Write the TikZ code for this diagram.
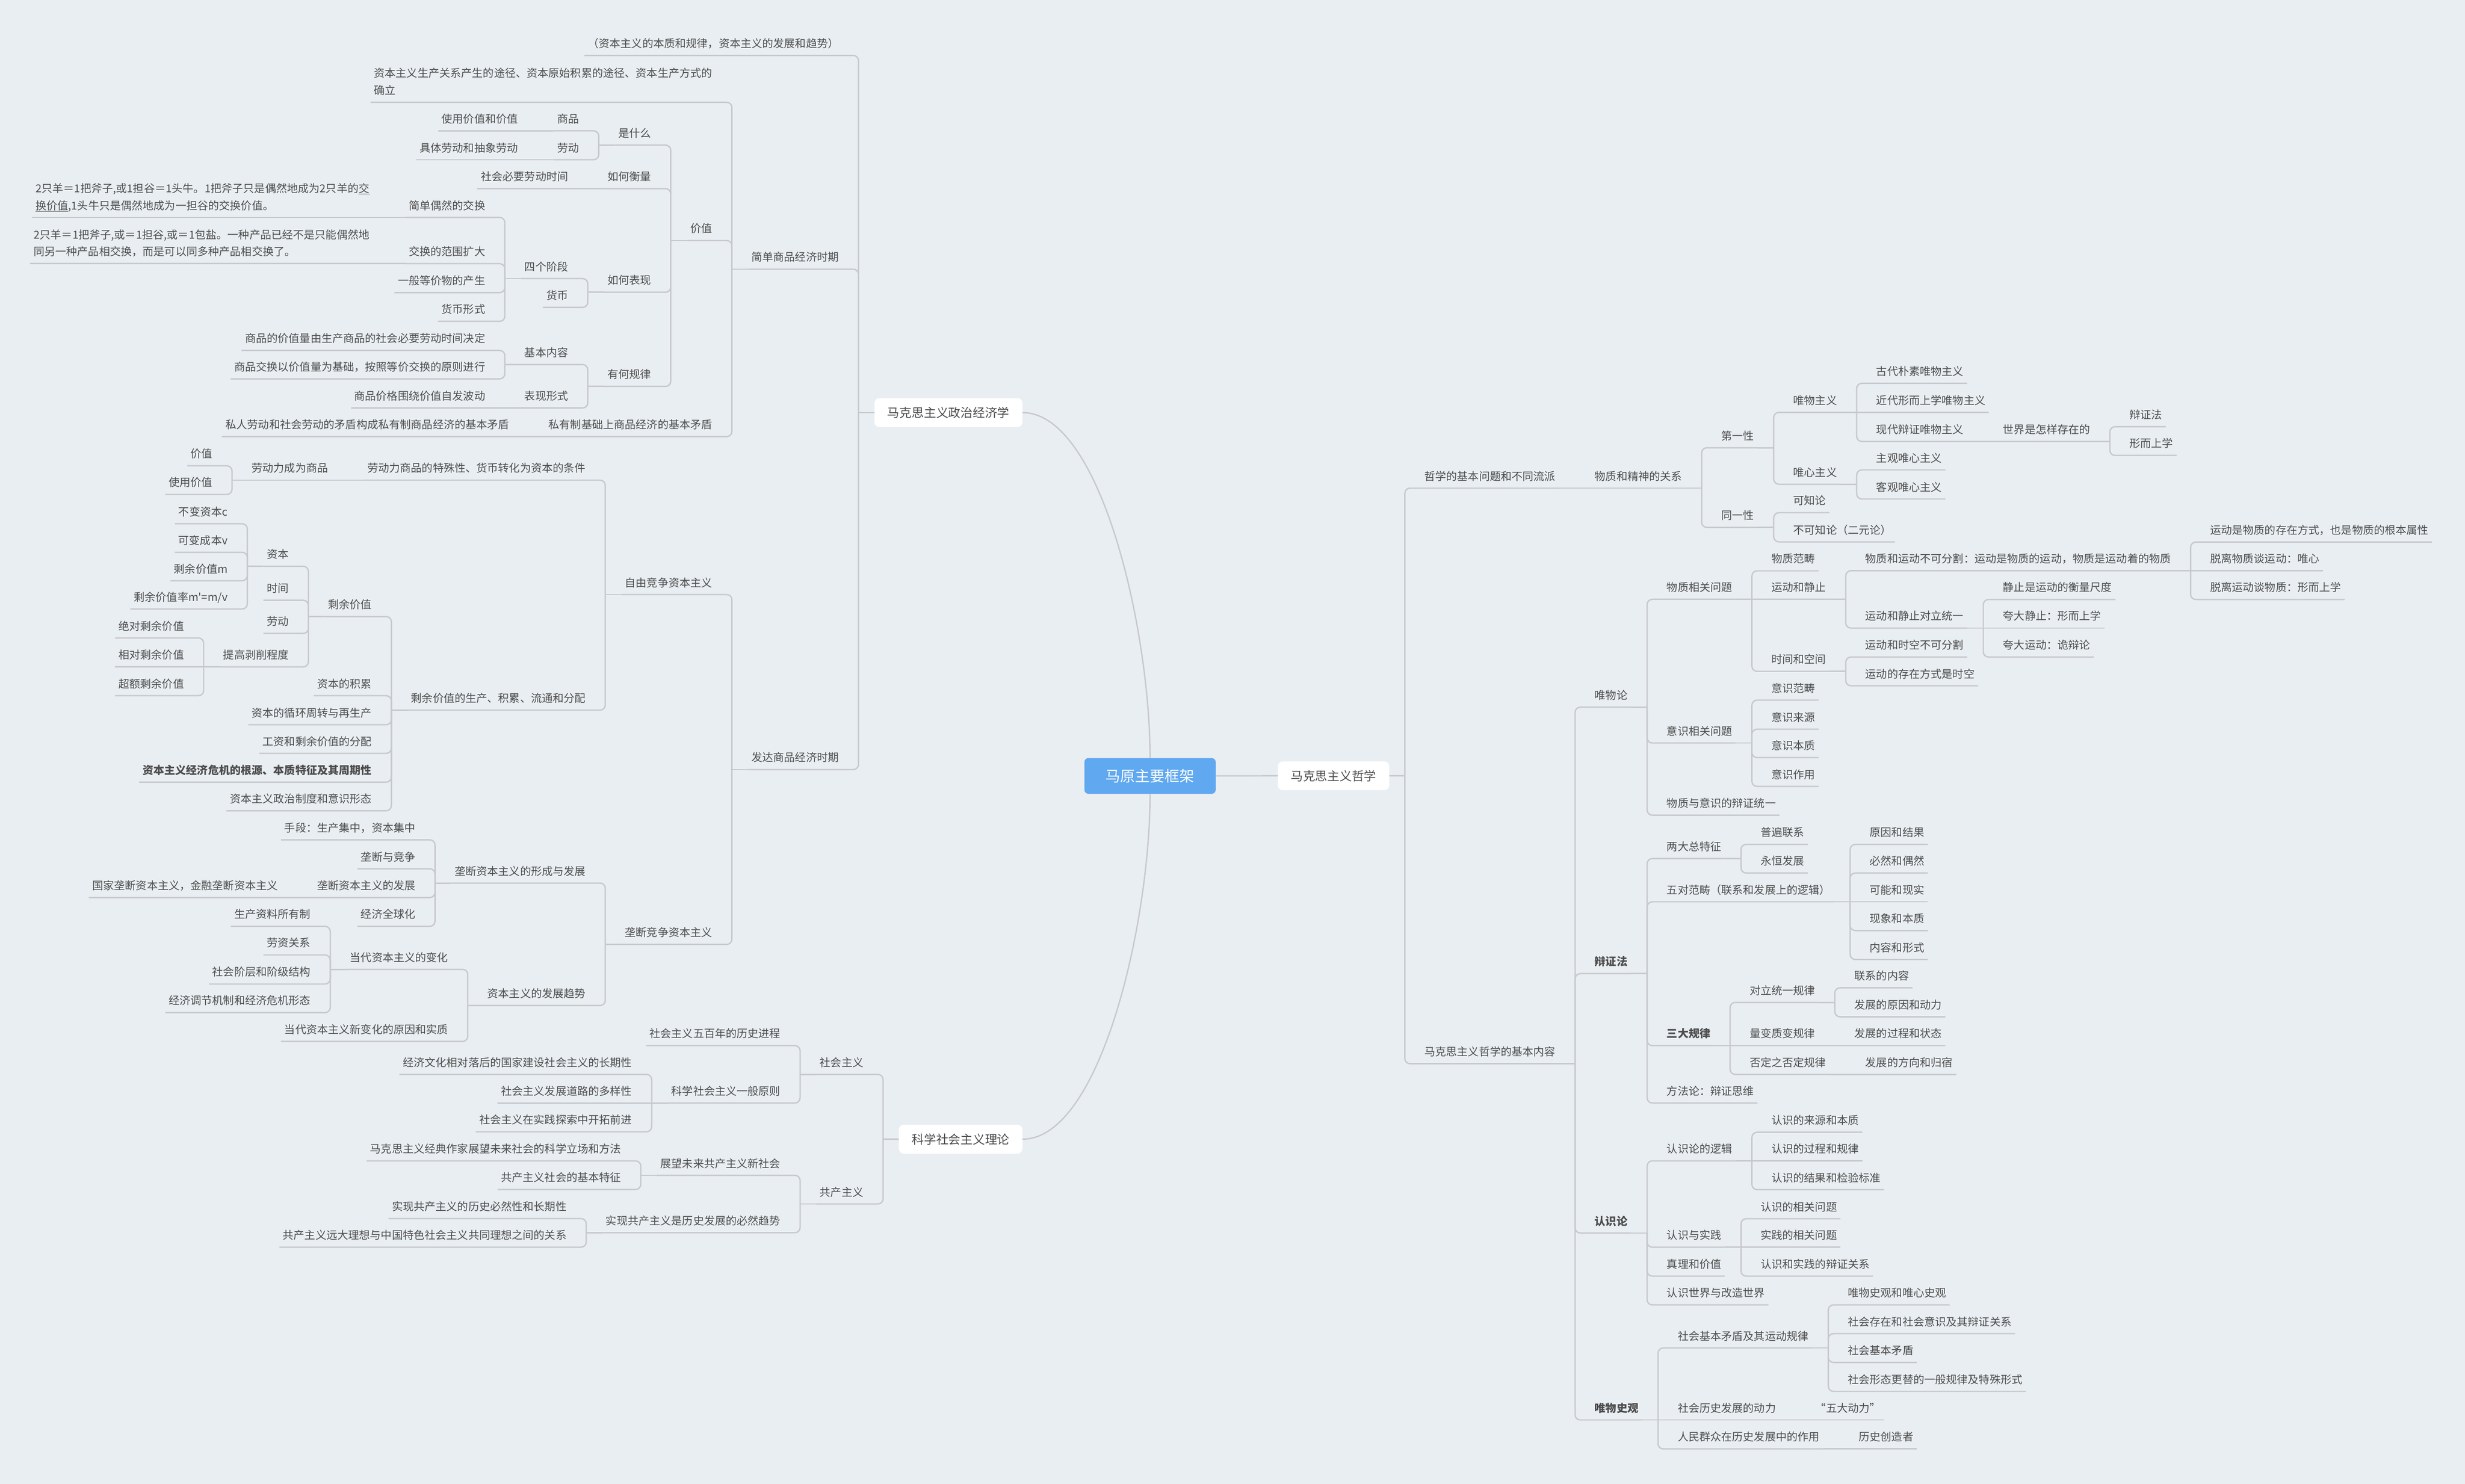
\documentclass[tikz,border=0pt]{standalone}
\usepackage{fontspec}
\setmainfont{Noto Sans CJK SC}
\usetikzlibrary{calc}
\definecolor{bgc}{HTML}{E9EEF2}
\definecolor{linec}{HTML}{C8C9CD}
\definecolor{txtc}{HTML}{4D4D4D}
\definecolor{mainblue}{HTML}{60A8F0}
\tikzset{
  txt/.style={inner sep=0pt, outer sep=0pt, text=txtc, font=\fontsize{19.75}{24}\selectfont},
  boldtxt/.style={font=\fontsize{19.75}{24}\selectfont\bfseries},
  conn/.style={draw=linec, line width=0.85mm},
  l1box/.style={fill=white, rounded corners=3mm, inner xsep=8.2mm, inner ysep=0pt, minimum height=18.3mm, text=txtc, font=\fontsize{22.1}{26}\selectfont},
  mainbox/.style={fill=mainblue, rounded corners=2.5mm, minimum width=83.5mm, minimum height=22.7mm, inner sep=0pt, text=white, font=\fontsize{26.86}{30}\selectfont},
}
% right-side node: name, parent, line y, style, text
\newcommand\Rn[5]{%
  \node[txt,#4,anchor=base west] (#1) at ($(#2B |- 0,#3)+(12.5,-5)$) {#5};
  \coordinate (#1B) at ($(#1.east |- 0,#3)+(12.5,0)$);
  \coordinate (#1L) at ($(#1.east |- 0,#3)+(2.2,0)$);
  \expandafter\xdef\csname ypos#1\endcsname{#3}%
  \draw[conn] (#2L) -- (#2B);
  \ifdim #3pt=\csname ypos#2\endcsname pt
    \draw[conn] (#2B) -- (#1L);
  \else
    \draw[conn,rounded corners=3.3mm] (#2B) |- (#1L);
  \fi
}
% left-side node
\newcommand\Ln[5]{%
  \node[txt,#4,anchor=base east] (#1) at ($(#2B |- 0,#3)+(-12.5,-5)$) {#5};
  \coordinate (#1B) at ($(#1.west |- 0,#3)+(-12.5,0)$);
  \coordinate (#1L) at ($(#1.west |- 0,#3)+(-2.2,0)$);
  \expandafter\xdef\csname ypos#1\endcsname{#3}%
  \draw[conn] (#2L) -- (#2B);
  \ifdim #3pt=\csname ypos#2\endcsname pt
    \draw[conn] (#2B) -- (#1L);
  \else
    \draw[conn,rounded corners=3.3mm] (#2B) |- (#1L);
  \fi
}
\begin{document}
\begin{tikzpicture}[x=1mm,y=-1mm]
\fill[bgc] (0,0) rectangle (1568,943.85);
\path[use as bounding box] (0,0) rectangle (1568,943.85);

% central and first-level nodes
\node[mainbox] (main) at (731.55,493.55) {马原主要框架};
\node[l1box,anchor=west] (phil) at (812.8,493.45) {马克思主义哲学};
\node[l1box,anchor=east] (econ) at (650.4,262.45) {马克思主义政治经济学};
\node[l1box,anchor=east] (sci) at (650.4,724.6) {科学社会主义理论};
\draw[conn] (main.east) -- (phil.west);
\draw[conn] (main.north) .. controls +(0,-82.2) and +(49.6,0) .. (econ.east);
\draw[conn] (main.south) .. controls +(0,82.2) and +(49.6,0) .. (sci.east);
\coordinate (philL) at (phil.east);
\coordinate (philB) at ($(phil.east)+(9.9,0)$);
\expandafter\xdef\csname yposphil\endcsname{493.45}
\coordinate (econL) at (econ.west);
\coordinate (econB) at ($(econ.west)+(-10.1,0)$);
\expandafter\xdef\csname yposecon\endcsname{262.45}
\coordinate (sciL) at (sci.west);
\coordinate (sciB) at ($(sci.west)+(-10,0)$);
\expandafter\xdef\csname ypossci\endcsname{724.6}

% ---------------- right: philosophy ----------------
\Rn{r1}{phil}{310.5}{}{哲学的基本问题和不同流派}
\Rn{r11}{r1}{310.5}{}{物质和精神的关系}
\Rn{r111}{r11}{284.8}{}{第一性}
\Rn{r1111}{r111}{262.3}{}{唯物主义}
\Rn{a1}{r1111}{243.8}{}{古代朴素唯物主义}
\Rn{a2}{r1111}{262.3}{}{近代形而上学唯物主义}
\Rn{a3}{r1111}{280.8}{}{现代辩证唯物主义}
\Rn{a31}{a3}{280.8}{}{世界是怎样存在的}
\Rn{a311}{a31}{271.4}{}{辩证法}
\Rn{a312}{a31}{289.7}{}{形而上学}
\Rn{r1112}{r111}{308.0}{}{唯心主义}
\Rn{b1}{r1112}{298.9}{}{主观唯心主义}
\Rn{b2}{r1112}{317.4}{}{客观唯心主义}
\Rn{r112}{r11}{335.5}{}{同一性}
\Rn{c1}{r112}{326.1}{}{可知论}
\Rn{c2}{r112}{344.7}{}{不可知论（二元论）}

\Rn{r2}{phil}{676.6}{}{马克思主义哲学的基本内容}
\Rn{w}{r2}{449.8}{}{唯物论}
\Rn{w1}{w}{381.2}{}{物质相关问题}
\Rn{w11}{w1}{363.1}{}{物质范畴}
\Rn{w12}{w1}{381.2}{}{运动和静止}
\Rn{w121}{w12}{363.0}{}{物质和运动不可分割：运动是物质的运动，物质是运动着的物质}
\Rn{w1211}{w121}{344.8}{}{运动是物质的存在方式，也是物质的根本属性}
\Rn{w1212}{w121}{363.0}{}{脱离物质谈运动：唯心}
\Rn{w1213}{w121}{381.3}{}{脱离运动谈物质：形而上学}
\Rn{w122}{w12}{399.5}{}{运动和静止对立统一}
\Rn{w1221}{w122}{381.3}{}{静止是运动的衡量尺度}
\Rn{w1222}{w122}{399.5}{}{夸大静止：形而上学}
\Rn{w1223}{w122}{417.9}{}{夸大运动：诡辩论}
\Rn{w13}{w1}{427.0}{}{时间和空间}
\Rn{w131}{w13}{417.9}{}{运动和时空不可分割}
\Rn{w132}{w13}{436.2}{}{运动的存在方式是时空}
\Rn{w2}{w}{472.6}{}{意识相关问题}
\Rn{w21}{w2}{445.3}{}{意识范畴}
\Rn{w22}{w2}{463.8}{}{意识来源}
\Rn{w23}{w2}{481.9}{}{意识本质}
\Rn{w24}{w2}{500.2}{}{意识作用}
\Rn{w3}{w}{518.5}{}{物质与意识的辩证统一}

\Rn{d}{r2}{619.3}{boldtxt}{辩证法}
\Rn{d1}{d}{546.1}{}{两大总特征}
\Rn{d11}{d1}{537.1}{}{普遍联系}
\Rn{d12}{d1}{555.3}{}{永恒发展}
\Rn{d2}{d}{573.6}{}{五对范畴（联系和发展上的逻辑）}
\Rn{d21}{d2}{537.1}{}{原因和结果}
\Rn{d22}{d2}{555.3}{}{必然和偶然}
\Rn{d23}{d2}{573.6}{}{可能和现实}
\Rn{d24}{d2}{591.9}{}{现象和本质}
\Rn{d25}{d2}{610.3}{}{内容和形式}
\Rn{d3}{d}{665.1}{boldtxt}{三大规律}
\Rn{d31}{d3}{637.6}{}{对立统一规律}
\Rn{d311}{d31}{628.3}{}{联系的内容}
\Rn{d312}{d31}{646.8}{}{发展的原因和动力}
\Rn{d32}{d3}{665.1}{}{量变质变规律}
\Rn{d321}{d32}{665.1}{}{发展的过程和状态}
\Rn{d33}{d3}{683.4}{}{否定之否定规律}
\Rn{d331}{d33}{683.4}{}{发展的方向和归宿}
\Rn{d4}{d}{701.6}{}{方法论：辩证思维}

\Rn{k}{r2}{784.3}{boldtxt}{认识论}
\Rn{k1}{k}{738.4}{}{认识论的逻辑}
\Rn{k11}{k1}{720.2}{}{认识的来源和本质}
\Rn{k12}{k1}{738.4}{}{认识的过程和规律}
\Rn{k13}{k1}{756.7}{}{认识的结果和检验标准}
\Rn{k2}{k}{793.3}{}{认识与实践}
\Rn{k21}{k2}{775.2}{}{认识的相关问题}
\Rn{k22}{k2}{793.3}{}{实践的相关问题}
\Rn{k23}{k2}{811.7}{}{认识和实践的辩证关系}
\Rn{k3}{k}{811.7}{}{真理和价值}
\Rn{k4}{k}{830.0}{}{认识世界与改造世界}

\Rn{h}{r2}{903.2}{boldtxt}{唯物史观}
\Rn{h1}{h}{857.4}{}{社会基本矛盾及其运动规律}
\Rn{h11}{h1}{830.0}{}{唯物史观和唯心史观}
\Rn{h12}{h1}{848.3}{}{社会存在和社会意识及其辩证关系}
\Rn{h13}{h1}{866.6}{}{社会基本矛盾}
\Rn{h14}{h1}{885.0}{}{社会形态更替的一般规律及特殊形式}
\Rn{h2}{h}{903.2}{}{社会历史发展的动力}
\Rn{h21}{h2}{903.2}{}{“五大动力”}
\Rn{h3}{h}{921.6}{}{人民群众在历史发展中的作用}
\Rn{h31}{h3}{921.6}{}{历史创造者}

% ---------------- left: political economy ----------------
\Ln{e1}{econ}{35.3}{}{（资本主义的本质和规律，资本主义的发展和趋势）}
\Ln{e2}{econ}{171.2}{}{简单商品经济时期}
\Ln{e21}{e2}{65.1}{}{\vbox{\baselineskip=11.1mm\hbox{资本主义生产关系产生的途径、资本原始积累的途径、资本生产方式的}\hbox{确立}}}
\Ln{e22}{e2}{153.0}{}{价值}
\Ln{e221}{e22}{92.3}{}{是什么}
\Ln{e2211}{e221}{83.2}{}{商品}
\Ln{e22111}{e2211}{83.2}{}{使用价值和价值}
\Ln{e2212}{e221}{101.6}{}{劳动}
\Ln{e22121}{e2212}{101.6}{}{具体劳动和抽象劳动}
\Ln{e222}{e22}{120.0}{}{如何衡量}
\Ln{e2221}{e222}{120.0}{}{社会必要劳动时间}
\Ln{e223}{e22}{185.9}{}{如何表现}
\Ln{e2231}{e223}{177.2}{}{四个阶段}
\Ln{s1}{e2231}{138.3}{}{简单偶然的交换}
\Ln{s11}{s1}{138.3}{}{\vbox{\baselineskip=10.9mm\hbox{2只羊＝1把斧子,或1担谷＝1头牛。1把斧子只是偶然地成为2只羊的\underline{交}}\hbox{\underline{换价值},1头牛只是偶然地成为一担谷的交换价值。}}}
\Ln{s2}{e2231}{167.7}{}{交换的范围扩大}
\Ln{s21}{s2}{167.7}{}{\vbox{\baselineskip=10.9mm\hbox{2只羊＝1把斧子,或＝1担谷,或＝1包盐。一种产品已经不是只能偶然地}\hbox{同另一种产品相交换，而是可以同多种产品相交换了。}}}
\Ln{s3}{e2231}{186.1}{}{一般等价物的产生}
\Ln{s4}{e2231}{204.4}{}{货币形式}
\Ln{e2232}{e223}{195.5}{}{货币}
\Ln{e224}{e22}{245.8}{}{有何规律}
\Ln{e2241}{e224}{231.9}{}{基本内容}
\Ln{e22411}{e2241}{222.9}{}{商品的价值量由生产商品的社会必要劳动时间决定}
\Ln{e22412}{e2241}{241.0}{}{商品交换以价值量为基础，按照等价交换的原则进行}
\Ln{e2242}{e224}{259.5}{}{表现形式}
\Ln{e22421}{e2242}{259.5}{}{商品价格围绕价值自发波动}
\Ln{e23}{e2}{277.7}{}{私有制基础上商品经济的基本矛盾}
\Ln{e231}{e23}{277.7}{}{私人劳动和社会劳动的矛盾构成私有制商品经济的基本矛盾}

\Ln{e3}{econ}{489.5}{}{发达商品经济时期}
\Ln{f1}{e3}{378.2}{}{自由竞争资本主义}
\Ln{f11}{f1}{305.4}{}{劳动力商品的特殊性、货币转化为资本的条件}
\Ln{f111}{f11}{305.4}{}{劳动力成为商品}
\Ln{f1111}{f111}{296.3}{}{价值}
\Ln{f1112}{f111}{314.5}{}{使用价值}
\Ln{f12}{f1}{451.7}{}{剩余价值的生产、积累、流通和分配}
\Ln{f121}{f12}{392.2}{}{剩余价值}
\Ln{g1}{f121}{360.2}{}{资本}
\Ln{g11}{g1}{333.1}{}{不变资本c}
\Ln{g12}{g1}{351.3}{}{可变成本v}
\Ln{g13}{g1}{369.4}{}{剩余价值m}
\Ln{g14}{g1}{387.4}{}{剩余价值率m\textquotesingle=m/v}
\Ln{g2}{f121}{381.8}{}{时间}
\Ln{g3}{f121}{402.9}{}{劳动}
\Ln{g4}{f121}{424.2}{}{提高剥削程度}
\Ln{g41}{g4}{405.8}{}{绝对剩余价值}
\Ln{g42}{g4}{424.2}{}{相对剩余价值}
\Ln{g43}{g4}{442.5}{}{超额剩余价值}
\Ln{f122}{f12}{442.5}{}{资本的积累}
\Ln{f123}{f12}{461.0}{}{资本的循环周转与再生产}
\Ln{f124}{f12}{479.2}{}{工资和剩余价值的分配}
\Ln{f125}{f12}{497.5}{boldtxt}{资本主义经济危机的根源、本质特征及其周期性}
\Ln{f126}{f12}{515.7}{}{资本主义政治制度和意识形态}

\Ln{f2}{e3}{600.7}{}{垄断竞争资本主义}
\Ln{f21}{f2}{561.7}{}{垄断资本主义的形成与发展}
\Ln{f211}{f21}{534.2}{}{手段：生产集中，资本集中}
\Ln{f212}{f21}{552.6}{}{垄断与竞争}
\Ln{f213}{f21}{570.9}{}{垄断资本主义的发展}
\Ln{f2131}{f213}{570.9}{}{国家垄断资本主义，金融垄断资本主义}
\Ln{f214}{f21}{589.2}{}{经济全球化}
\Ln{f22}{f2}{639.6}{}{资本主义的发展趋势}
\Ln{f221}{f22}{616.6}{}{当代资本主义的变化}
\Ln{f2211}{f221}{589.2}{}{生产资料所有制}
\Ln{f2212}{f221}{607.4}{}{劳资关系}
\Ln{f2213}{f221}{625.9}{}{社会阶层和阶级结构}
\Ln{f2214}{f221}{644.1}{}{经济调节机制和经济危机形态}
\Ln{f222}{f22}{662.4}{}{当代资本主义新变化的原因和实质}

% ---------------- left: scientific socialism ----------------
\Ln{t1}{sci}{683.4}{}{社会主义}
\Ln{t11}{t1}{665.1}{}{社会主义五百年的历史进程}
\Ln{t12}{t1}{701.6}{}{科学社会主义一般原则}
\Ln{t121}{t12}{683.4}{}{经济文化相对落后的国家建设社会主义的长期性}
\Ln{t122}{t12}{701.6}{}{社会主义发展道路的多样性}
\Ln{t123}{t12}{719.9}{}{社会主义在实践探索中开拓前进}
\Ln{t2}{sci}{765.8}{}{共产主义}
\Ln{t21}{t2}{747.6}{}{展望未来共产主义新社会}
\Ln{t211}{t21}{738.4}{}{马克思主义经典作家展望未来社会的科学立场和方法}
\Ln{t212}{t21}{756.6}{}{共产主义社会的基本特征}
\Ln{t22}{t2}{784.1}{}{实现共产主义是历史发展的必然趋势}
\Ln{t221}{t22}{775.1}{}{实现共产主义的历史必然性和长期性}
\Ln{t222}{t22}{793.3}{}{共产主义远大理想与中国特色社会主义共同理想之间的关系}
\end{tikzpicture}
\end{document}
